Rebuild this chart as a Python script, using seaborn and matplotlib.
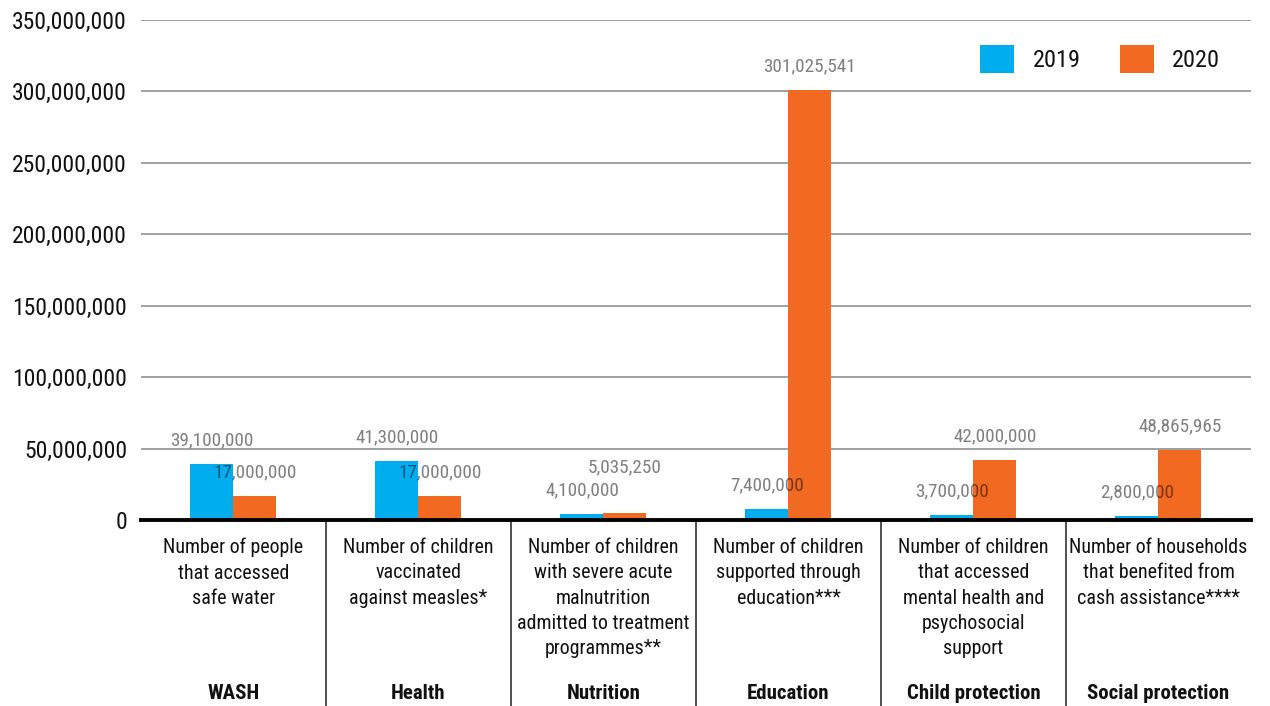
import matplotlib
matplotlib.use("Agg")
import matplotlib.pyplot as plt
import matplotlib.transforms as mtransforms
from matplotlib import font_manager
from matplotlib.ticker import FuncFormatter
import seaborn as sns
import pandas as pd

categories = ["WASH", "Health", "Nutrition", "Education", "Child protection", "Social protection"]
descriptions = [
    "Number of people\nthat accessed\nsafe water",
    "Number of children\nvaccinated\nagainst measles*",
    "Number of children\nwith severe acute\nmalnutrition\nadmitted to treatment\nprogrammes**",
    "Number of children\nsupported through\neducation***",
    "Number of children\nthat accessed\nmental health and\npsychosocial\nsupport",
    "Number of households\nthat benefited from\ncash assistance****",
]
years = ["2019", "2020"]
values_2019 = [39100000, 41300000, 4100000, 7400000, 3700000, 2800000]
values_2020 = [17000000, 17000000, 5035250, 301025541, 42000000, 48865965]
y_ticks = [0, 50000000, 100000000, 150000000, 200000000, 250000000, 300000000, 350000000]
colors = {"2019": "#00AEEF", "2020": "#F26A21"}

df = pd.DataFrame({
    "category": categories * 2,
    "year": ["2019"] * len(categories) + ["2020"] * len(categories),
    "value": values_2019 + values_2020,
})

sns.set_theme(style="white")
names = {f.name for f in font_manager.fontManager.ttflist}
fam = [n for n in ["Roboto Condensed", "Liberation Sans Narrow", "Roboto"] if n in names]
plt.rcParams["font.family"] = fam + ["DejaVu Sans"]
condensed = bool(fam) and fam[0] != "Roboto"

fig = plt.figure(figsize=(12.7, 7.06), dpi=100)
ax = fig.add_axes([0.111, 0.2635, 0.874, 0.7082])

sns.barplot(data=df, x="category", y="value", hue="year", hue_order=years,
            palette=colors, width=0.465, saturation=1, ax=ax, legend=True,
            edgecolor="none", linewidth=0, zorder=2)

k = 1.0 if condensed else 0.9
ax.set_ylim(0, 350000000)
ax.set_yticks(y_ticks)
ax.yaxis.set_major_formatter(FuncFormatter(lambda v, p: f"{int(v):,}"))
ax.tick_params(axis="y", length=0, pad=10, labelsize=17 * k, labelcolor="#111111")
ax.set_xticks(range(len(categories)))
ax.set_xticklabels([])
ax.tick_params(axis="x", length=0)
ax.set_xlim(-0.5, len(categories) - 0.5)
ax.set_xlabel("")
ax.set_ylabel("")
ax.grid(axis="y", color="#999999", linewidth=1.3, zorder=0)
ax.set_axisbelow(True)
for s in ["top", "right", "left"]:
    ax.spines[s].set_visible(False)
ax.spines["bottom"].set_color("black")
ax.spines["bottom"].set_linewidth(2.8)
ax.spines["bottom"].set_zorder(5)

# value labels (raise the second label of a pair when the two would collide)
px_per_unit = 500 / 350000000
for i in range(len(categories)):
    pair = [values_2019[i], values_2020[i]]
    for j, (container, v) in enumerate(zip(ax.containers, pair)):
        bar = container[i]
        extra = 0
        if j == 1 and abs(pair[1] - pair[0]) * px_per_unit < 18:
            extra = 16
        ax.annotate(f"{v:,}", (bar.get_x() + bar.get_width() / 2, bar.get_height()),
                    xytext=(0, 17 + extra), textcoords="offset points", ha="center",
                    va="center", fontsize=13.8 * k, color="black", alpha=0.5, zorder=6)

trans = mtransforms.blended_transform_factory(ax.transData, ax.transAxes)
for i, (cat, desc) in enumerate(zip(categories, descriptions)):
    ax.text(i, -0.036, desc, transform=trans, ha="center", va="top", fontsize=14.4 * k,
            linespacing=1.42, color="#111111")
    ax.text(i, -0.348, cat, transform=trans, ha="center", va="center", fontsize=15 * k,
            fontweight="bold", color="#111111")
for i in range(len(categories) - 1):
    ax.plot([i + 0.5, i + 0.5], [0, -0.38], transform=trans, color="#333333",
            linewidth=1.2, clip_on=False)

leg = ax.legend(loc="center right", bbox_to_anchor=(1220 / 1270, 1 - 59 / 706),
                bbox_transform=fig.transFigure, ncol=2, frameon=False, fontsize=17.5 * k,
                handlelength=1.4 / k, handleheight=1.4 / k, handletextpad=0.76 / k,
                columnspacing=1.6 / k, borderpad=0, borderaxespad=0)
for t in leg.get_texts():
    t.set_color("#111111")

fig.savefig("out.png", dpi=100)
